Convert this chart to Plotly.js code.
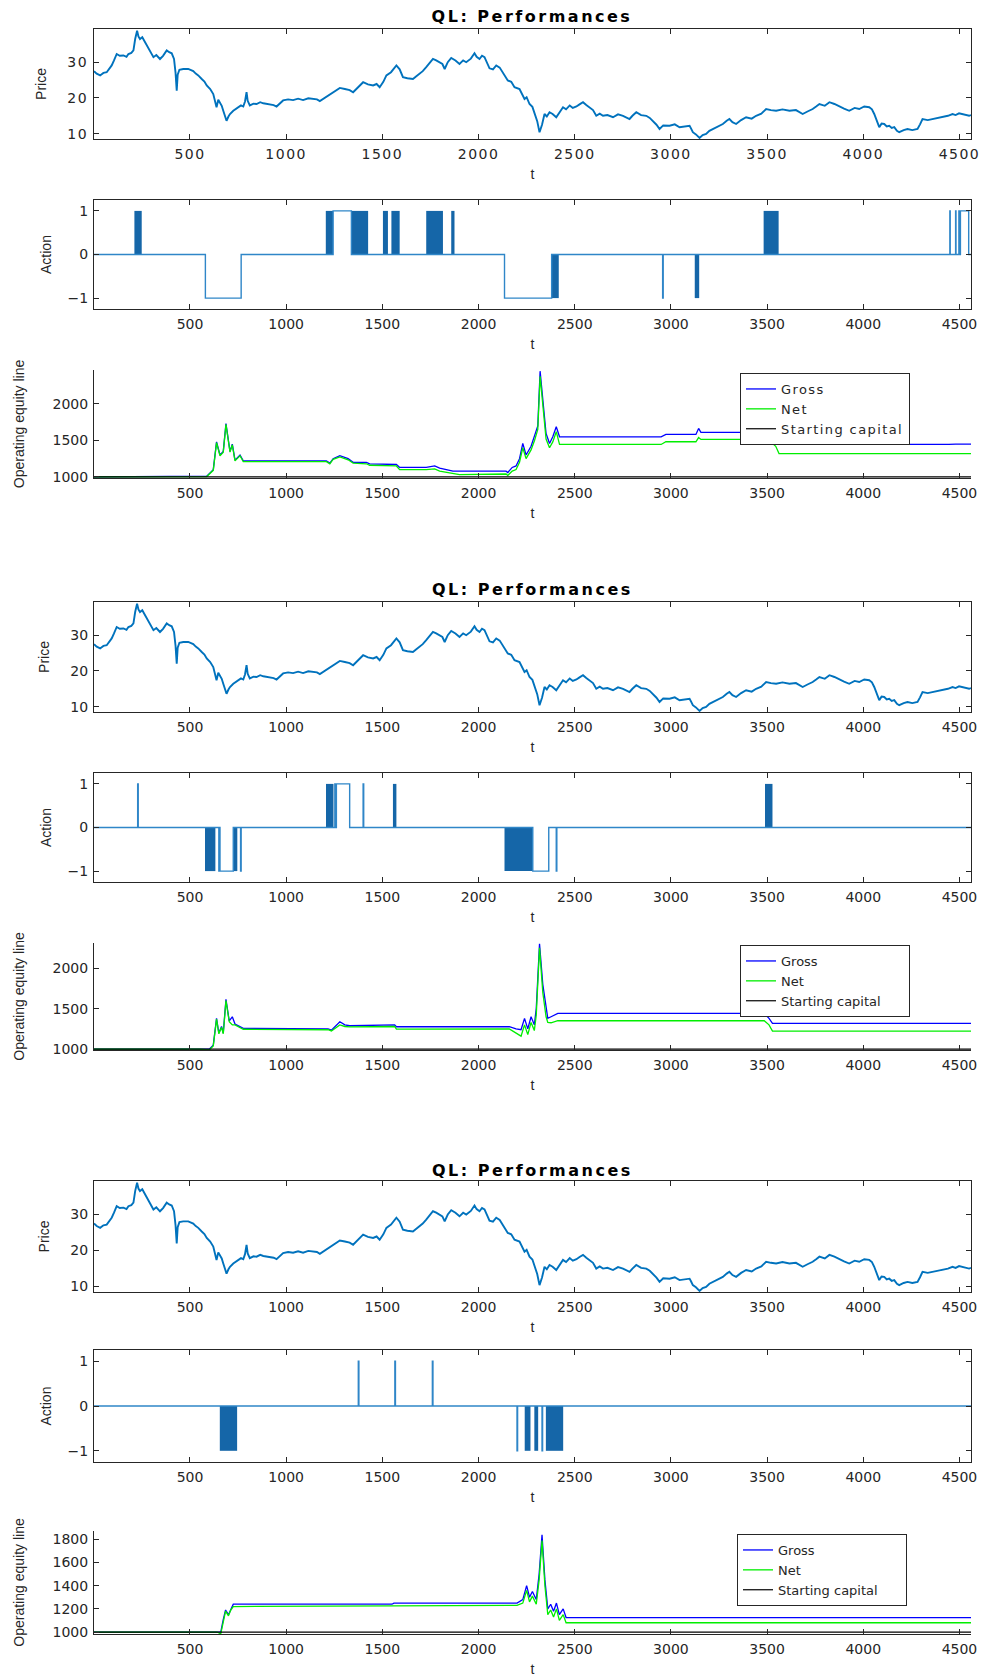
<!DOCTYPE html>
<html><head><meta charset="utf-8">
<script src="https://cdn.plot.ly/plotly-3.0.1.min.js"></script>
<style>
html,body{margin:0;padding:0;background:#fff}
#chart{width:987px;height:1677px}
.xtick text,.ytick text{letter-spacing:1.5px}
.gtitle,.annotation-text{letter-spacing:2.5px}
.legendtext{letter-spacing:1.4px}
</style>
</head><body><div id="chart"></div>
<script>
// ---------------- DATA ----------------
const chartTitle = 'QL: Performances';
const xTicks = [500, 1000, 1500, 2000, 2500, 3000, 3500, 4000, 4500];
const priceTicks = [10, 20, 30];
const actionTicks = [-1, 0, 1];
const equityTicksA = [1000, 1500, 2000];
const equityTicksB = [1000, 1200, 1400, 1600, 1800];
const legendNames = ['Gross', 'Net', 'Starting capital'];

const priceT = [
  1, 15, 33, 50, 67, 80, 93, 105, 119, 135,
  154, 170, 180, 195, 206, 215, 225, 232, 240, 252,
  266, 275, 284, 297, 310, 325, 344, 360, 379, 392,
  405, 417, 425, 431, 436, 445, 465, 491, 517, 530,
  543, 561, 575, 587, 605, 621, 630, 638, 647, 656,
  665, 673, 682, 690, 700, 708, 725, 740, 751, 765,
  777, 786, 794, 800, 811, 830, 846, 865, 881, 900,
  915, 935, 950, 968, 984, 1010, 1036, 1062, 1088, 1115,
  1140, 1160, 1175, 1200, 1227, 1250, 1279, 1305, 1330, 1348,
  1375, 1400, 1425, 1452, 1470, 1486, 1505, 1521, 1545, 1573,
  1590, 1607, 1630, 1659, 1675, 1694, 1710, 1728, 1745, 1763,
  1780, 1798, 1812, 1824, 1840, 1858, 1880, 1901, 1920, 1936,
  1960, 1979, 1990, 2005, 2018, 2031, 2045, 2057, 2075, 2092,
  2110, 2126, 2152, 2170, 2187, 2213, 2225, 2239, 2250, 2265,
  2280, 2291, 2305, 2317, 2330, 2343, 2355, 2369, 2385, 2404,
  2420, 2439, 2455, 2474, 2490, 2509, 2525, 2543, 2560, 2578,
  2595, 2612, 2630, 2647, 2670, 2699, 2725, 2751, 2768, 2785,
  2800, 2820, 2845, 2872, 2890, 2907, 2925, 2941, 2960, 2993,
  3020, 3045, 3070, 3097, 3105, 3114, 3130, 3149, 3165, 3183,
  3200, 3218, 3245, 3270, 3290, 3304, 3320, 3339, 3365, 3391,
  3420, 3443, 3470, 3495, 3520, 3547, 3580, 3616, 3650, 3685,
  3710, 3737, 3755, 3772, 3800, 3824, 3850, 3875, 3900, 3927,
  3955, 3979, 4005, 4031, 4045, 4057, 4070, 4083, 4095, 4109,
  4122, 4135, 4148, 4161, 4175, 4187, 4210, 4230, 4255, 4282,
  4295, 4308, 4335, 4360, 4385, 4412, 4440, 4464, 4480, 4498,
  4525, 4550, 4560];
const priceV = [
  27.5, 26.8, 26.3, 27.0, 27.2, 28.2, 29.1, 30.5, 32.3, 31.8,
  31.9, 31.5, 32.3, 32.6, 33.3, 36.5, 38.8, 37.2, 36.5, 37.0,
  35.6, 34.5, 33.7, 32.4, 31.4, 32.0, 30.9, 31.8, 33.3, 32.8,
  32.5, 30.9, 27.0, 22.0, 26.5, 27.9, 28.1, 28.1, 27.5, 26.8,
  26.3, 25.3, 24.6, 23.5, 22.5, 21.1, 19.5, 17.4, 19.5, 18.8,
  17.8, 16.4, 15.0, 13.6, 14.8, 15.5, 16.4, 17.0, 17.4, 17.9,
  17.6, 19.0, 21.6, 19.2, 17.9, 18.4, 18.3, 18.8, 18.5, 18.3,
  18.1, 18.0, 17.6, 18.5, 19.3, 19.6, 19.4, 19.8, 19.4, 19.9,
  19.7, 19.6, 19.1, 20.0, 21.1, 21.8, 22.8, 22.5, 22.2, 21.6,
  23.0, 24.4, 23.8, 23.5, 23.9, 23.0, 24.5, 26.3, 27.2, 29.1,
  28.0, 25.8, 25.5, 25.3, 26.0, 26.7, 27.5, 28.6, 29.8, 30.9,
  30.5, 30.0, 29.5, 28.1, 30.0, 31.2, 30.5, 29.5, 30.5, 30.0,
  31.0, 32.5, 31.5, 30.9, 31.8, 31.4, 29.5, 28.3, 28.0, 29.1,
  28.5, 27.2, 24.9, 24.5, 23.0, 22.5, 21.0, 19.7, 20.2, 18.3,
  17.5, 15.5, 13.5, 10.4, 12.5, 15.5, 14.8, 16.0, 15.5, 14.6,
  16.0, 17.4, 16.8, 17.9, 17.2, 17.6, 18.2, 18.8, 18.0, 17.4,
  16.6, 15.0, 15.6, 15.0, 15.2, 14.6, 15.4, 15.0, 14.6, 14.1,
  15.0, 16.0, 15.2, 15.0, 14.4, 13.6, 12.5, 11.3, 12.3, 12.2,
  12.6, 11.8, 12.0, 12.2, 11.4, 10.4, 9.8, 8.8, 9.6, 9.9,
  10.8, 11.3, 12.2, 12.7, 13.6, 14.1, 13.2, 12.7, 13.8, 14.6,
  14.2, 15.0, 15.6, 16.9, 16.6, 16.4, 16.8, 16.4, 16.6, 15.5,
  16.2, 16.9, 17.6, 18.3, 17.8, 18.8, 18.3, 17.6, 17.0, 16.4,
  17.2, 16.9, 17.6, 17.4, 16.8, 15.5, 13.5, 11.8, 12.8, 12.7,
  12.0, 12.2, 11.6, 11.8, 10.8, 10.4, 11.0, 11.3, 11.0, 11.3,
  12.6, 14.1, 13.8, 14.1, 14.4, 14.6, 15.0, 15.5, 15.2, 15.7,
  15.4, 15.0, 15.2];

// Action, run 1: change points (held until next) + dense switching blocks
const actT1 = [1, 580, 766, 1244, 1339, 2135, 2380, 2957, 2960, 4450, 4452, 4480, 4482, 4497, 4499, 4505, 4548, 4560];
const actV1 = [0, -1, 0, 1, 0, -1, 0, -1, 0, 1, 0, 1, 0, 1, 0, 1, 0, 0];
const blkS1 = [211, 1206, 1339, 1503, 1547, 1728, 1858, 2377, 3124, 3482];
const blkE1 = [249, 1244, 1426, 1529, 1590, 1815, 1875, 2417, 3147, 3560];
const blkV1 = [1, 1, 1, 1, 1, 1, 1, -1, -1, 1];

// Action, run 2
const actT2 = [1, 228, 231, 650, 653, 656, 725, 763, 766, 1253, 1256, 1261, 1330, 1400, 1403, 2282, 2365, 2404, 2407, 4560];
const actV2 = [0, 1, 0, -1, 0, -1, 0, -1, 0, 1, 0, 1, 0, 1, 0, -1, 0, -1, 0, 0];
const blkS2 = [578, 725, 1207, 1555, 2135, 3489];
const blkE2 = [632, 746, 1246, 1573, 2282, 3528];
const blkV2 = [-1, -1, 1, 1, -1, 1];

// Action, run 3
const actT3 = [1, 1375, 1378, 1565, 1568, 1760, 1763, 2200, 2203, 2330, 2333, 4560];
const actV3 = [0, 1, 0, 1, 0, 1, 0, -1, 0, -1, 0, 0];
const blkS3 = [655, 2240, 2290, 2350];
const blkE3 = [745, 2270, 2310, 2440];
const blkV3 = [-1, -1, -1, -1];

// Operating equity line, run 1
const eqT1 = [1, 552, 587, 621, 638, 656, 673, 687, 708, 720, 734, 760, 777, 1209, 1227, 1244, 1279, 1322, 1348, 1417, 1434, 1573, 1590, 1728, 1772, 1798, 1867, 1901, 2143, 2152, 2175, 2195, 2213, 2230, 2247, 2273, 2291, 2308, 2320, 2334, 2351, 2369, 2386, 2404, 2421, 2949, 2974, 3130, 3144, 3156, 3485, 3498, 3519, 3545, 3562, 4445, 4480, 4560];
const gross1 = [1000, 1000, 1010, 1100, 1480, 1300, 1350, 1730, 1350, 1450, 1230, 1300, 1220, 1220, 1190, 1250, 1290, 1250, 1200, 1200, 1180, 1170, 1130, 1130, 1150, 1120, 1080, 1078, 1078, 1060, 1130, 1150, 1250, 1459, 1300, 1420, 1573, 1700, 2450, 2032, 1596, 1459, 1550, 1688, 1550, 1550, 1582, 1582, 1665, 1610, 1610, 1650, 1590, 1540, 1445, 1445, 1450, 1450];
const net1 = [1000, 1000, 1005, 1090, 1470, 1290, 1340, 1720, 1340, 1440, 1220, 1290, 1210, 1210, 1180, 1240, 1275, 1235, 1190, 1180, 1160, 1150, 1100, 1100, 1110, 1080, 1040, 1030, 1040, 1020, 1080, 1100, 1200, 1400, 1250, 1370, 1500, 1650, 2380, 1950, 1520, 1400, 1480, 1620, 1445, 1445, 1482, 1482, 1540, 1514, 1514, 1530, 1480, 1420, 1321, 1321, 1321, 1320];

// Operating equity line, run 2
const eqT2 = [1, 552, 600, 621, 638, 650, 664, 673, 687, 704, 720, 734, 777, 1218, 1235, 1279, 1305, 1330, 1564, 1573, 2160, 2195, 2221, 2239, 2256, 2273, 2290, 2300, 2317, 2334, 2351, 2360, 2377, 2412, 3485, 3510, 3528, 4560];
const gross2 = [1000, 1000, 1000, 1050, 1380, 1200, 1280, 1200, 1616, 1350, 1400, 1310, 1256, 1250, 1235, 1339, 1300, 1289, 1300, 1277, 1277, 1250, 1240, 1380, 1250, 1400, 1300, 1500, 2300, 1800, 1500, 1380, 1400, 1442, 1442, 1380, 1318, 1318];
const net2 = [1000, 1000, 990, 1040, 1370, 1190, 1270, 1190, 1600, 1340, 1300, 1300, 1246, 1240, 1225, 1300, 1280, 1275, 1280, 1248, 1250, 1194, 1161, 1300, 1180, 1330, 1230, 1420, 2250, 1700, 1400, 1330, 1326, 1351, 1351, 1300, 1223, 1223];

// Operating equity line, run 3
const eqT3 = [1, 640, 660, 672, 685, 700, 712, 725, 1550, 1560, 2200, 2230, 2250, 2265, 2280, 2300, 2315, 2330, 2345, 2360, 2375, 2390, 2405, 2420, 2440, 2455, 4560];
const gross3 = [1000, 1000, 1000, 1100, 1190, 1150, 1200, 1240, 1240, 1250, 1250, 1280, 1400, 1300, 1350, 1280, 1500, 1840, 1450, 1200, 1240, 1180, 1250, 1150, 1200, 1125, 1125];
const net3 = [1000, 1000, 985, 1080, 1180, 1140, 1190, 1220, 1220, 1225, 1230, 1250, 1360, 1260, 1310, 1240, 1450, 1790, 1400, 1150, 1190, 1130, 1200, 1100, 1150, 1080, 1080];

const startCapT = [1, 4560];
const startCapV = [1000, 1000];

// ---------------- LAYOUT / STYLE ----------------
const W = 987, H = 1677, X0 = 94, X1 = 971;
const panelPx = [[29,139],[200,309],[370,478],[602,712],[773,882],[943,1050],[1181,1292],[1350,1462],[1531,1634]];
const yRanges = [[8.5,39.3],[-1.25,1.25],[985,2466],[8.5,39.3],[-1.25,1.25],[990,2310],[8.5,39.3],[-1.25,1.25],[983,1872]];
const titleYpx = [16, 589, 1170];
const legendPx = [[825, 373], [825, 945], [822, 1534]];
const yTitleStandoff = [17, 12, 24];

const TXT = '#262626';
const TICKFONT = {family: 'DejaVu Sans, Liberation Sans, sans-serif', size: 14, color: TXT};
const LABFONT = {family: 'Liberation Sans, Arial, sans-serif', size: 14, color: TXT};
const TITLEFONT = {family: 'DejaVu Sans, Liberation Sans, sans-serif', size: 16, color: '#000'};
const BLUE = '#0072BD';

const ax = i => (i === 1 ? '' : String(i));
const layout = {
  width: W, height: H, margin: {l: 0, r: 0, t: 0, b: 0},
  paper_bgcolor: '#fff', plot_bgcolor: '#fff', showlegend: true,
  barmode: 'overlay',
  title: {text: '<b>' + chartTitle + '</b>', x: 532 / W, y: 1 - titleYpx[0] / H, xanchor: 'center', yanchor: 'middle',
          xref: 'paper', yref: 'paper', font: TITLEFONT},
  annotations: []
};
for (let k = 1; k < 3; k++) {
  layout.annotations.push({text: '<b>' + chartTitle + '</b>', xref: 'paper', yref: 'paper', x: 532 / W, y: 1 - titleYpx[k] / H,
    xanchor: 'center', yanchor: 'middle', showarrow: false, font: TITLEFONT});
}

const yTitles = ['Price', 'Action', 'Operating equity line'];
const yTicksByKind = [priceTicks, actionTicks];
for (let i = 1; i <= 9; i++) {
  const kind = (i - 1) % 3; // 0 price, 1 action, 2 equity
  const run = Math.floor((i - 1) / 3);
  const [top, bot] = panelPx[i - 1];
  const boxed = kind !== 2;
  layout['xaxis' + ax(i)] = {
    anchor: 'y' + ax(i), domain: [X0 / W, X1 / W], range: [1, 4560],
    tickmode: 'array', tickvals: xTicks, ticks: 'inside', ticklen: 5, tickwidth: 1, tickcolor: TXT,
    showline: true, linecolor: TXT, linewidth: 1, mirror: boxed ? 'ticks' : false,
    showgrid: false, zeroline: false, tickfont: TICKFONT, ticklabelstandoff: 2,
    title: {text: 't', font: LABFONT, standoff: 8}
  };
  const tv = kind < 2 ? yTicksByKind[kind] : (run < 2 ? equityTicksA : equityTicksB);
  layout['yaxis' + ax(i)] = {
    anchor: 'x' + ax(i), domain: [1 - bot / H, 1 - top / H], range: yRanges[i - 1],
    tickmode: 'array', tickvals: tv, ticks: 'inside', ticklen: 5, tickwidth: 1, tickcolor: TXT,
    showline: true, linecolor: TXT, linewidth: 1, mirror: boxed ? 'ticks' : false,
    showgrid: false, zeroline: false, tickfont: TICKFONT, ticklabelstandoff: 2,
    title: {text: yTitles[kind], font: LABFONT, standoff: yTitleStandoff[kind]}
  };
}
for (let r = 0; r < 3; r++) {
  const key = r === 0 ? 'legend' : 'legend' + (r + 1);
  layout[key] = {x: legendPx[r][0] / W, y: 1 - legendPx[r][1] / H, xanchor: 'center', yanchor: 'top',
    xref: 'paper', yref: 'paper', bgcolor: '#fff', bordercolor: TXT, borderwidth: 1,
    font: {family: 'DejaVu Sans, Liberation Sans, sans-serif', size: 13, color: TXT}, traceorder: 'normal', tracegroupgap: 0};
}

// ---------------- TRACES ----------------
const traces = [];
const actions = [[actT1, actV1, blkS1, blkE1, blkV1], [actT2, actV2, blkS2, blkE2, blkV2], [actT3, actV3, blkS3, blkE3, blkV3]];
const equities = [[eqT1, gross1, net1], [eqT2, gross2, net2], [eqT3, gross3, net3]];
for (let r = 0; r < 3; r++) {
  const pi = r * 3 + 1, ai = r * 3 + 2, ei = r * 3 + 3;
  traces.push({type: 'scatter', mode: 'lines', x: priceT, y: priceV, xaxis: 'x' + ax(pi), yaxis: 'y' + ax(pi),
    line: {color: BLUE, width: 1.9}, showlegend: false, hoverinfo: 'skip'});
  const [aT, aV, bS, bE, bV] = actions[r];
  traces.push({type: 'bar', x: bS.map((s, k) => (s + bE[k]) / 2), y: bV, width: bS.map((s, k) => bE[k] - s), base: 0,
    xaxis: 'x' + ax(ai), yaxis: 'y' + ax(ai), marker: {color: '#1566a8', line: {width: 0}}, showlegend: false, hoverinfo: 'skip'});
  traces.push({type: 'scatter', mode: 'lines', x: aT, y: aV, xaxis: 'x' + ax(ai), yaxis: 'y' + ax(ai),
    line: {color: '#2f86c8', width: 1.4, shape: 'hv'}, showlegend: false, hoverinfo: 'skip'});
  const [eT, g, n] = equities[r];
  const lg = r === 0 ? 'legend' : 'legend' + (r + 1);
  traces.push({type: 'scatter', mode: 'lines', name: legendNames[0], x: eT, y: g, xaxis: 'x' + ax(ei), yaxis: 'y' + ax(ei),
    line: {color: '#0000ff', width: 1.3}, legend: lg, hoverinfo: 'skip'});
  traces.push({type: 'scatter', mode: 'lines', name: legendNames[1], x: eT, y: n, xaxis: 'x' + ax(ei), yaxis: 'y' + ax(ei),
    line: {color: '#00ee00', width: 1.3}, legend: lg, hoverinfo: 'skip'});
  traces.push({type: 'scatter', mode: 'lines', name: legendNames[2], x: startCapT, y: startCapV, xaxis: 'x' + ax(ei), yaxis: 'y' + ax(ei),
    line: {color: '#000', width: 1.2}, legend: lg, hoverinfo: 'skip'});
}

Plotly.newPlot('chart', traces, layout, {displayModeBar: false, staticPlot: true});
</script>
</body></html>
